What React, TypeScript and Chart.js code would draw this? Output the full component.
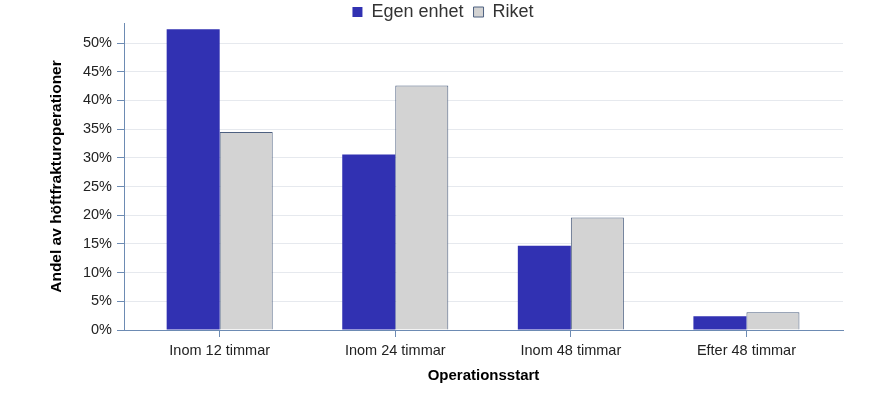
import React, { useEffect, useRef } from "react";
import { Chart, registerables } from "chart.js";

Chart.register(...registerables);

const categories = ["Inom 12 timmar", "Inom 24 timmar", "Inom 48 timmar", "Efter 48 timmar"];
const egenEnhet = [52.4, 30.6, 14.7, 2.4];
const riket = [34.5, 42.6, 19.6, 3.1];
const yTicks = [0, 5, 10, 15, 20, 25, 30, 35, 40, 45, 50];

const AXIS = "#6d8bb3";
const BLUE = "#3131b2";
const GRAY = "#d3d3d3";
const GRAY_BORDER = "#4d6080";

export default function App() {
  const ref = useRef<HTMLCanvasElement | null>(null);
  useEffect(() => {
    if (!ref.current) return;
    const chart = new Chart(ref.current, {
      type: "bar",
      data: {
        datasets: [
          {
            label: "Egen enhet",
            data: egenEnhet.map((v, i) => ({ x: i, y: v })),
            backgroundColor: BLUE,
            borderColor: BLUE,
            borderWidth: 0,
            categoryPercentage: 0.604,
            barPercentage: 1,
          },
          {
            label: "Riket",
            data: riket.map((v, i) => ({ x: i, y: v })),
            backgroundColor: GRAY,
            borderColor: GRAY_BORDER,
            borderWidth: 1,
            categoryPercentage: 0.604,
            barPercentage: 1,
          },
        ],
      },
      options: {
        animation: false,
        responsive: true,
        maintainAspectRatio: false,
        layout: { padding: { top: -7, left: 43, right: 46, bottom: 9 } },
        plugins: {
          legend: {
            position: "top",
            maxHeight: 30,
            labels: {
              boxWidth: 10,
              boxHeight: 10,
              padding: 10,
              color: "#333",
              font: { family: "'Liberation Sans', Arial, sans-serif", size: 18 },
            },
          },
          tooltip: { enabled: false },
        },
        scales: {
          x: {
            type: "linear",
            offset: false,
            min: -0.545,
            max: 3.55,
            afterBuildTicks: (axis: any) => {
              axis.ticks = categories.map((_, i) => ({ value: i }));
            },
            afterFit: (axis: any) => {
              axis.height = 59;
            },
            ticks: {
              callback: (v: any) => categories[Number(v)] ?? "",
              color: "#222",
              padding: 5,
              autoSkip: false,
              maxRotation: 0,
              font: { family: "'Liberation Sans', Arial, sans-serif", size: 14.5 },
            },
            grid: {
              display: true,
              offset: false,
              drawOnChartArea: false,
              drawTicks: true,
              tickLength: 7,
              tickColor: AXIS,
              color: AXIS,
            },
            border: { display: true, color: AXIS, width: 1 },
            title: {
              display: true,
              text: "Operationsstart",
              color: "#000",
              font: { family: "'Liberation Sans', Arial, sans-serif", size: 15, weight: "bold" },
              padding: { top: 4, bottom: 4 },
            },
          },
          y: {
            min: 0,
            max: 53.5,
            afterBuildTicks: (axis: any) => {
              axis.ticks = yTicks.map((v) => ({ value: v }));
            },
            afterFit: (axis: any) => {
              axis.width = 81;
            },
            ticks: {
              callback: (v: any) => v + "%",
              color: "#222",
              padding: 5,
              font: { family: "'Liberation Sans', Arial, sans-serif", size: 14.5 },
            },
            grid: {
              color: "#e6e9ee",
              tickColor: AXIS,
              tickLength: 7,
            },
            border: { display: true, color: AXIS, width: 1 },
            title: {
              display: true,
              text: "Andel av höftfrakturoperationer",
              color: "#000",
              font: { family: "'Liberation Sans', Arial, sans-serif", size: 15.5, weight: "bold" },
              padding: { top: 4, bottom: 4 },
            },
          },
        },
      },
    });
    return () => chart.destroy();
  }, []);
  return (
    <div style={{ position: "fixed", left: 0, top: 0, width: 889, height: 398, background: "#fff" }}>
      <canvas ref={ref} />
    </div>
  );
}
